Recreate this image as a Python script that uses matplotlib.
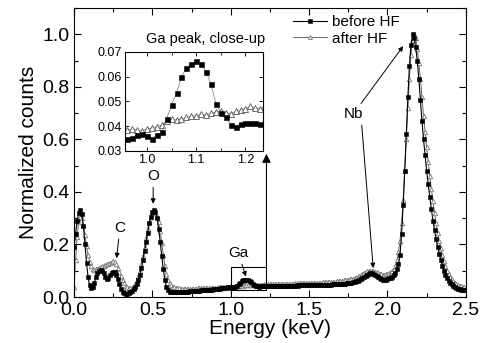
import numpy as np
import matplotlib
matplotlib.use("Agg")
import matplotlib.pyplot as plt
from matplotlib.patches import Rectangle
from matplotlib.ticker import MultipleLocator

plt.rcParams["font.family"] = ["Liberation Sans", "DejaVu Sans"]

# EDS channel grid: 0.00 ... 2.50 keV, 10 eV per channel
energy_start = 0.0
energy_step = 0.01

before_hf = [
    0.19, 0.24, 0.29, 0.32, 0.33, 0.315, 0.27, 0.20, 0.13, 0.075,
    0.045, 0.034, 0.038, 0.055, 0.075, 0.09, 0.10, 0.103, 0.10, 0.09,
    0.078, 0.07, 0.072, 0.082, 0.092, 0.097, 0.095, 0.085, 0.068, 0.048,
    0.032, 0.02, 0.014, 0.012, 0.012, 0.014, 0.018, 0.024, 0.03, 0.038,
    0.05, 0.065, 0.085, 0.11, 0.14, 0.175, 0.21, 0.245, 0.28, 0.305,
    0.322, 0.33, 0.325, 0.30, 0.26, 0.21, 0.155, 0.105, 0.065, 0.038,
    0.025, 0.02, 0.018, 0.018, 0.018, 0.018, 0.019, 0.019, 0.019, 0.020,
    0.020, 0.021, 0.021, 0.021, 0.022, 0.022, 0.022, 0.023, 0.023, 0.024,
    0.024, 0.025, 0.025, 0.026, 0.026, 0.027, 0.027, 0.028, 0.028, 0.029,
    0.030, 0.030, 0.031, 0.032, 0.033, 0.034, 0.0348, 0.0352, 0.0366, 0.0368,
    0.0362, 0.0350, 0.0365, 0.0375, 0.0430, 0.0486, 0.0533, 0.0598, 0.0635, 0.0652,
    0.0661, 0.0652, 0.0620, 0.0570, 0.0490, 0.0455, 0.0436, 0.0405, 0.0398, 0.0410,
    0.0412, 0.0411, 0.0411, 0.0409, 0.041, 0.041, 0.042, 0.041, 0.042, 0.042,
    0.042, 0.042, 0.042, 0.043, 0.042, 0.043, 0.043, 0.043, 0.043, 0.043,
    0.043, 0.043, 0.044, 0.043, 0.044, 0.044, 0.044, 0.044, 0.044, 0.045,
    0.045, 0.045, 0.045, 0.045, 0.046, 0.045, 0.046, 0.046, 0.046, 0.046,
    0.046, 0.047, 0.047, 0.047, 0.047, 0.048, 0.048, 0.048, 0.049, 0.049,
    0.050, 0.050, 0.051, 0.051, 0.052, 0.053, 0.054, 0.055, 0.056, 0.058,
    0.060, 0.062, 0.065, 0.068, 0.072, 0.077, 0.081, 0.085, 0.088, 0.090,
    0.091, 0.089, 0.085, 0.080, 0.075, 0.071, 0.068, 0.066, 0.065, 0.066,
    0.068, 0.071, 0.074, 0.077, 0.082, 0.09, 0.105, 0.125, 0.16, 0.24,
    0.35, 0.48, 0.62, 0.76, 0.88, 0.96, 1.0, 0.985, 0.95, 0.90,
    0.83, 0.75, 0.67, 0.60, 0.54, 0.48, 0.43, 0.38, 0.335, 0.29,
    0.255, 0.22, 0.19, 0.165, 0.14, 0.12, 0.10, 0.085, 0.072, 0.062,
    0.054, 0.048, 0.043, 0.039, 0.035, 0.032, 0.030, 0.028, 0.027, 0.026,
    0.025,
]

after_hf = [
    0.04, 0.14, 0.23, 0.285, 0.305, 0.30, 0.275, 0.235, 0.195, 0.16,
    0.135, 0.118, 0.108, 0.104, 0.105, 0.108, 0.112, 0.115, 0.118, 0.12,
    0.122, 0.124, 0.127, 0.13, 0.134, 0.136, 0.133, 0.125, 0.112, 0.096,
    0.08, 0.064, 0.052, 0.043, 0.037, 0.034, 0.033, 0.035, 0.04, 0.05,
    0.063, 0.08, 0.10, 0.125, 0.155, 0.19, 0.225, 0.26, 0.285, 0.305,
    0.318, 0.322, 0.32, 0.308, 0.285, 0.25, 0.205, 0.16, 0.12, 0.088,
    0.066, 0.053, 0.045, 0.040, 0.037, 0.035, 0.034, 0.033, 0.032, 0.032,
    0.031, 0.031, 0.031, 0.031, 0.031, 0.032, 0.032, 0.032, 0.032, 0.033,
    0.033, 0.033, 0.033, 0.034, 0.034, 0.034, 0.035, 0.035, 0.035, 0.036,
    0.036, 0.036, 0.037, 0.037, 0.037, 0.0375, 0.0385, 0.0388, 0.0385, 0.038,
    0.039, 0.0392, 0.0398, 0.0405, 0.042, 0.0428, 0.0425, 0.0428, 0.0435, 0.044,
    0.0442, 0.0448, 0.0445, 0.0452, 0.0458, 0.046, 0.0455, 0.045, 0.046, 0.0465,
    0.047, 0.048, 0.0472, 0.047, 0.048, 0.048, 0.049, 0.048, 0.049, 0.049,
    0.049, 0.050, 0.049, 0.050, 0.050, 0.050, 0.051, 0.050, 0.051, 0.051,
    0.051, 0.052, 0.051, 0.052, 0.052, 0.052, 0.053, 0.052, 0.053, 0.053,
    0.053, 0.054, 0.053, 0.054, 0.054, 0.055, 0.054, 0.055, 0.055, 0.056,
    0.056, 0.056, 0.057, 0.057, 0.058, 0.058, 0.059, 0.059, 0.060, 0.061,
    0.061, 0.062, 0.063, 0.064, 0.065, 0.066, 0.067, 0.068, 0.070, 0.072,
    0.074, 0.077, 0.080, 0.084, 0.088, 0.092, 0.095, 0.098, 0.100, 0.101,
    0.101, 0.100, 0.097, 0.094, 0.091, 0.088, 0.086, 0.085, 0.085, 0.086,
    0.088, 0.091, 0.095, 0.10, 0.108, 0.12, 0.14, 0.17, 0.215, 0.28,
    0.37, 0.48, 0.60, 0.72, 0.83, 0.92, 0.98, 1.0, 0.985, 0.945,
    0.89, 0.83, 0.76, 0.69, 0.63, 0.57, 0.515, 0.46, 0.41, 0.365,
    0.32, 0.28, 0.245, 0.215, 0.185, 0.16, 0.138, 0.118, 0.10, 0.087,
    0.076, 0.067, 0.06, 0.054, 0.05, 0.046, 0.043, 0.041, 0.039, 0.037,
    0.036,
]

energy = np.round(energy_start + energy_step * np.arange(len(before_hf)), 2)

inset_xlim = (0.955, 1.235)
inset_ylim = (0.03, 0.07)

fig = plt.figure(figsize=(4.82, 3.43), dpi=100)
ax = fig.add_axes([0.1535, 0.134, 0.813, 0.8426])

ax.plot(energy, after_hf, color="#666666", lw=0.7, marker="^", ms=3.2,
        mfc="white", mec="#777777", mew=0.6, label="after HF", zorder=2)
ax.plot(energy, before_hf, color="black", lw=0.8, marker="s", ms=2.6,
        mfc="black", mec="black", mew=0.4, label="before HF", zorder=3)

ax.set_xlim(0, 2.5)
ax.set_ylim(0, 1.1)
ax.xaxis.set_major_locator(MultipleLocator(0.5))
ax.xaxis.set_minor_locator(MultipleLocator(0.25))
ax.yaxis.set_major_locator(MultipleLocator(0.2))
ax.yaxis.set_minor_locator(MultipleLocator(0.1))
ax.xaxis.set_major_formatter(plt.FormatStrFormatter("%.1f"))
ax.yaxis.set_major_formatter(plt.FormatStrFormatter("%.1f"))
ax.tick_params(which="both", direction="in", top=True, right=True, labelsize=14)
ax.tick_params(which="major", length=5, width=0.8)
ax.tick_params(which="minor", length=3, width=0.8)
ax.set_xlabel("Energy (keV)", fontsize=15, labelpad=0)
ax.set_ylabel("Normalized counts", fontsize=15, labelpad=3)

handles, labels = ax.get_legend_handles_labels()
ax.legend(handles[::-1], labels[::-1], loc="upper left", bbox_to_anchor=(0.56, 0.975),
          frameon=False, fontsize=11, handlelength=2.2, handletextpad=0.3,
          borderaxespad=0, borderpad=0, labelspacing=0.15, markerscale=0.9)

arrow = dict(arrowstyle="-|>", color="black", lw=0.7, mutation_scale=7,
             shrinkA=1, shrinkB=0)
ax.annotate("O", xy=(0.505, 0.355), xytext=(0.505, 0.46), ha="center",
            va="center", fontsize=11, arrowprops=arrow)
ax.annotate("C", xy=(0.272, 0.148), xytext=(0.293, 0.263), ha="center",
            va="center", fontsize=11, arrowprops=arrow)
ax.annotate("Ga", xy=(1.097, 0.078), xytext=(1.048, 0.167), ha="center",
            va="center", fontsize=11, arrowprops=arrow)
ax.annotate("Nb", xy=(2.10, 0.955), xytext=(1.78, 0.695), ha="center",
            va="center", fontsize=11, arrowprops=arrow)
ax.annotate("", xy=(1.909, 0.11), xytext=(1.835, 0.66), arrowprops=arrow)

# close-up box and the arrow up to the inset
ax.add_patch(Rectangle((1.0, 0.027), 0.228, 0.088, fill=False, ec="black",
                       lw=0.8, zorder=5))
ax.annotate("", xy=(1.228, 0.545), xytext=(1.228, 0.115),
            arrowprops=dict(arrowstyle="-|>", color="black", lw=0.8,
                            mutation_scale=13, shrinkA=0, shrinkB=0))

ins = fig.add_axes([0.259, 0.560, 0.286, 0.289])
ins.plot(energy, after_hf, color="#777777", lw=0.5, marker="^", ms=4.2,
         mfc="white", mec="#555555", mew=0.6)
ins.plot(energy, before_hf, color="#777777", lw=0.5, marker="s", ms=3.6,
         mfc="black", mec="black", mew=0.4)
ins.set_xlim(*inset_xlim)
ins.set_ylim(*inset_ylim)
ins.xaxis.set_major_locator(MultipleLocator(0.1))
ins.xaxis.set_minor_locator(MultipleLocator(0.05))
ins.yaxis.set_major_locator(MultipleLocator(0.01))
ins.xaxis.set_major_formatter(plt.FormatStrFormatter("%.1f"))
ins.yaxis.set_major_formatter(plt.FormatStrFormatter("%.2f"))
ins.tick_params(which="both", direction="in", top=True, right=True,
                labelsize=9, pad=2)
ins.tick_params(which="major", length=3, width=0.6)
ins.tick_params(which="minor", length=2, width=0.6)
ins.text(0.587, 1.06, "Ga peak, close-up", transform=ins.transAxes,
         ha="center", va="bottom", fontsize=10.5)

fig.savefig("out.png", dpi=100)
